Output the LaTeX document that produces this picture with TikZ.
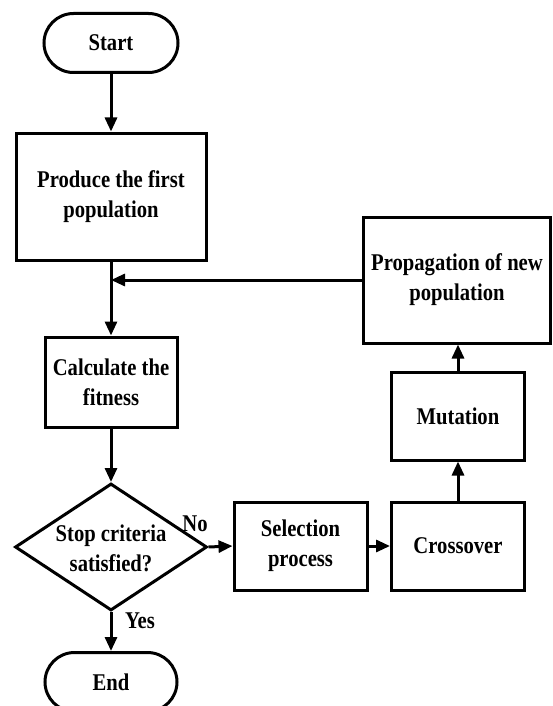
\documentclass[tikz,border=0pt]{standalone}
\usepackage{fontspec}
\setmainfont{Liberation Serif}[FakeStretch=0.86]
\usetikzlibrary{arrows.meta,shapes.geometric,shapes.misc}
\begin{document}
\begin{tikzpicture}[x=1pt,y=-1pt,
  every node/.style={font=\fontsize{24}{30}\selectfont\bfseries, align=center, inner sep=0pt},
  box/.style={draw, line width=3pt, rectangle},
  term/.style={draw, line width=3pt, rounded rectangle, minimum width=134pt, minimum height=59pt},
  arr/.style={line width=3pt, -{Triangle[length=14pt,width=12pt]}},
  lnk/.style={line width=3pt}]
\useasboundingbox (0,0) rectangle (552,706);
\node[term] (start) at (111,43) {Start};
\node[box, minimum width=190pt, minimum height=127pt] (produce) at (111,196.5) {Produce the first\\population};
\node[box, minimum width=132pt, minimum height=90pt] (calc) at (111,382) {Calculate the\\fitness};
\node[draw, line width=3pt, diamond, minimum width=192pt, minimum height=127pt] (dec) at (111,547) {};
\node (dectext) at (111,548) {Stop criteria\\satisfied?};
\node[box, minimum width=133pt, minimum height=88pt] (sel) at (300.5,546) {Selection\\process};
\node[box, minimum width=133pt, minimum height=88pt] (cross) at (458,546) {Crossover};
\node[box, minimum width=133pt, minimum height=88pt] (mut) at (458,416) {Mutation};
\node[box, minimum width=187pt, minimum height=126pt] (prop) at (457,280) {Propagation of new\\population};
\node[term, minimum width=132pt] (end) at (111,682) {End};
\node (no) at (195,524) {No};
\node (yes) at (140,621) {Yes};
\coordinate (join) at (prop.west -| produce.south);
\draw[arr] (start.south) -- (produce.north);
\draw[arr] (produce.south) -- (calc.north);
\draw[arr] (prop.west) -- (join);
\draw[arr] (calc.south) -- (dec.north);
\draw[arr] (dec.east) -- (sel.west);
\draw[arr] (sel.east) -- (cross.west);
\draw[arr] (cross.north) -- (mut.south);
\draw[arr] (mut.north) -- (mut.north |- prop.south);
\draw[arr] (dec.south) -- (end.north);
\end{tikzpicture}
\end{document}
